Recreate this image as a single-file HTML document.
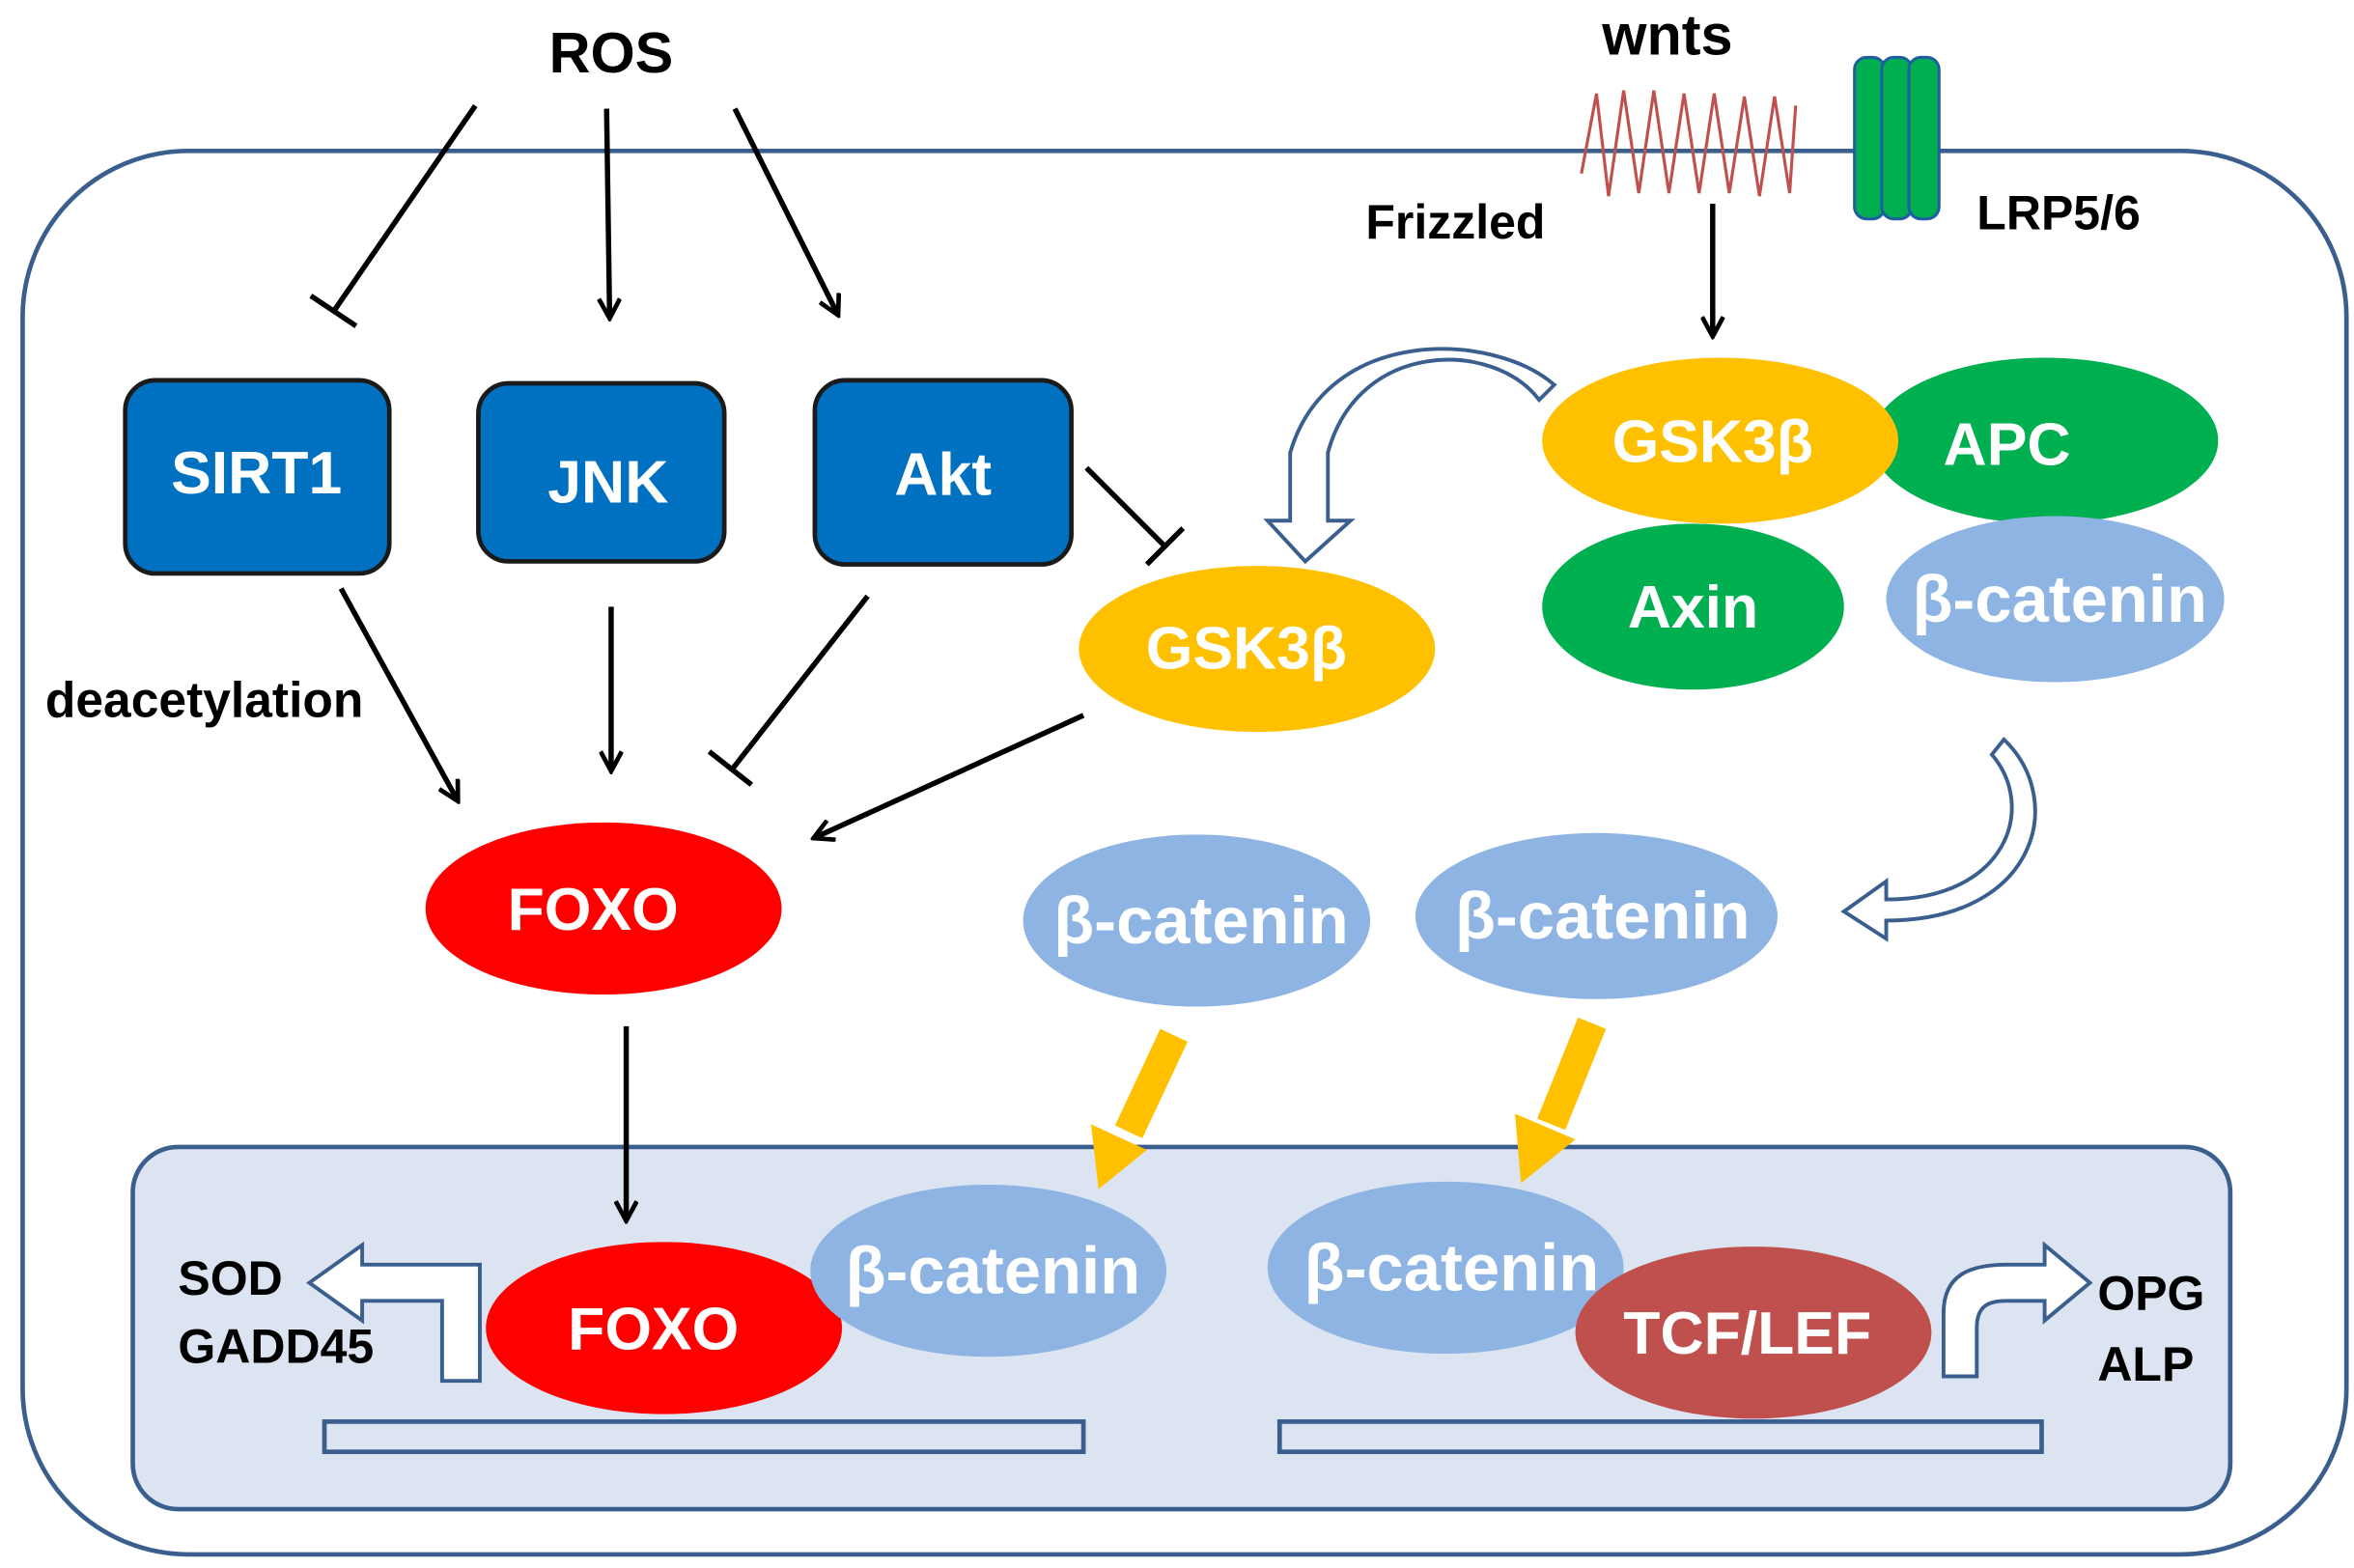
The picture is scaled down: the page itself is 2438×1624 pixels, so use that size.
<!DOCTYPE html>
<html><head><meta charset="utf-8"><style>html,body{margin:0;padding:0;background:#fff}svg{display:block}text{font-family:"Liberation Sans",sans-serif;font-weight:bold}</style></head><body>
<svg width="2438" height="1624" viewBox="0 0 1560 1039" preserveAspectRatio="none" xmlns="http://www.w3.org/2000/svg">
<defs>
<marker id="ah" markerWidth="16" markerHeight="16" refX="13" refY="8" orient="auto" markerUnits="userSpaceOnUse" viewBox="0 0 16 16"><path d="M1,1 L14,8 L1,15" fill="none" stroke="#000" stroke-width="3"/></marker>
</defs>
<rect x="15" y="100" width="1540" height="930" rx="110" fill="#fff" stroke="#3a5f8f" stroke-width="3"/>
<rect x="88" y="760" width="1390" height="240" rx="30" fill="#dbe4f0" stroke="#3a5f8f" stroke-width="3"/>
<rect x="215" y="942" width="503" height="20" fill="none" stroke="#3a5f8f" stroke-width="3"/>
<rect x="848" y="942" width="505" height="20" fill="none" stroke="#3a5f8f" stroke-width="3"/>

<text x="405" y="48" font-size="38" text-anchor="middle">ROS</text>
<g stroke="#000" stroke-width="3.5" fill="none">
<line x1="315" y1="70" x2="222" y2="205"/><line x1="206" y1="196" x2="236" y2="216"/>
<line x1="402" y1="72" x2="404" y2="210" marker-end="url(#ah)"/>
<line x1="487" y1="72" x2="555" y2="208" marker-end="url(#ah)"/>
<line x1="720" y1="310" x2="772" y2="362"/><line x1="760" y1="374" x2="784" y2="350"/>
<line x1="226" y1="390" x2="303" y2="530" marker-end="url(#ah)"/>
<line x1="405" y1="402" x2="405" y2="510" marker-end="url(#ah)"/>
<line x1="575" y1="395" x2="485" y2="510"/><line x1="470" y1="498" x2="498" y2="520"/>
<line x1="718" y1="474" x2="540" y2="555" marker-end="url(#ah)"/>
<line x1="415" y1="680" x2="415" y2="808" marker-end="url(#ah)"/>
<line x1="1135" y1="135" x2="1135" y2="222" marker-end="url(#ah)"/>
</g>

<g stroke="#1a1a1a" stroke-width="3" fill="#0070c0">
<rect x="83" y="252" width="175" height="128" rx="20"/>
<rect x="317" y="254" width="163" height="118" rx="20"/>
<rect x="540" y="252" width="170" height="122" rx="20"/>
</g>
<g fill="#fff" font-size="40" text-anchor="middle">
<text x="170" y="327">SIRT1</text><text x="403" y="333">JNK</text><text x="625" y="328">Akt</text>
</g>
<text x="30" y="475" font-size="33">deacetylation</text>

<ellipse cx="833" cy="430" rx="118" ry="55" fill="#ffc000"/>
<text x="826" y="443" font-size="40" fill="#fff" text-anchor="middle">GSK3β</text>
<ellipse cx="400" cy="602" rx="118" ry="57" fill="#ff0000"/>
<text x="393" y="616" font-size="40" fill="#fff" text-anchor="middle">FOXO</text>
<ellipse cx="793" cy="610" rx="115" ry="57" fill="#8eb4e3"/>
<text x="796" y="625" font-size="44" fill="#fff" text-anchor="middle">β-catenin</text>
<ellipse cx="1058" cy="607" rx="120" ry="55" fill="#8eb4e3"/>
<text x="1062" y="622" font-size="44" fill="#fff" text-anchor="middle">β-catenin</text>

<g stroke="#ffc000" stroke-width="20">
<line x1="778" y1="686" x2="748" y2="750"/><line x1="1055" y1="678" x2="1028" y2="745"/>
</g>
<polygon points="723,745 760,762 728,788" fill="#ffc000"/>
<polygon points="1004,738 1044,755 1008,784" fill="#ffc000"/>

<ellipse cx="1355" cy="292" rx="115" ry="55" fill="#00b050"/>
<ellipse cx="1140" cy="292" rx="118" ry="55" fill="#ffc000"/>
<ellipse cx="1122" cy="402" rx="100" ry="55" fill="#00b050"/>
<ellipse cx="1362" cy="397" rx="112" ry="55" fill="#8eb4e3"/>
<g fill="#fff" font-size="40" text-anchor="middle">
<text x="1135" y="306">GSK3β</text><text x="1330" y="308">APC</text>
<text x="1122" y="416">Axin</text><text x="1365" y="412" font-size="44">β-catenin</text>
</g>

<path d="M1020,265 C990,225 900,225 880,300 L880,345 L895,345 L865,372 L840,345 L855,345 L855,300 C880,215 990,220 1030,255 Z" fill="#fff" stroke="#3a5f8f" stroke-width="2.5"/>
<path d="M1328,490 C1370,530 1350,610 1250,610 L1250,622 L1222,604 L1250,584 L1250,596 C1330,596 1350,535 1320,500 Z" fill="#fff" stroke="#3a5f8f" stroke-width="2.5"/>

<ellipse cx="440" cy="880" rx="118" ry="57" fill="#ff0000"/>
<ellipse cx="655" cy="842" rx="118" ry="57" fill="#8eb4e3"/>
<ellipse cx="958" cy="840" rx="118" ry="57" fill="#8eb4e3"/>
<ellipse cx="1162" cy="883" rx="118" ry="57" fill="#c0504d"/>
<g fill="#fff" font-size="40" text-anchor="middle">
<text x="433" y="894">FOXO</text><text x="658" y="857" font-size="44">β-catenin</text>
<text x="962" y="855" font-size="44">β-catenin</text><text x="1158" y="897">TCF/LEF</text>
</g>

<path d="M318,915 L318,838 L240,838 L240,825 L205,850 L240,875 L240,862 L293,862 L293,915 Z" fill="#fff" stroke="#3a5f8f" stroke-width="2.5"/>
<path d="M1288,912 L1288,870 C1288,845 1305,838 1330,838 L1355,838 L1355,825 L1385,850 L1355,875 L1355,862 L1330,862 C1318,862 1310,865 1310,880 L1310,912 Z" fill="#fff" stroke="#3a5f8f" stroke-width="2.5"/>
<g font-size="32">
<text x="118" y="858">SOD</text><text x="118" y="903">GADD45</text>
<text x="1390" y="868">OPG</text><text x="1390" y="915">ALP</text>
</g>

<text x="1105" y="36" font-size="38" text-anchor="middle">wnts</text>
<polyline points="1048,115 1058,62 1066,130 1076,60 1086,128 1096,60 1106,128 1116,62 1126,128 1136,62 1146,128 1156,64 1166,130 1176,64 1186,128 1190,70" fill="none" stroke="#c0504d" stroke-width="2"/>
<text x="905" y="158" font-size="32">Frizzled</text>
<g stroke="#1f5fa0" stroke-width="2" fill="#00b050">
<rect x="1229" y="38" width="20" height="107" rx="8"/>
<rect x="1247" y="38" width="20" height="107" rx="8"/>
<rect x="1265" y="38" width="20" height="107" rx="8"/>
</g>
<text x="1310" y="152" font-size="32">LRP5/6</text>
</svg>
</body></html>
